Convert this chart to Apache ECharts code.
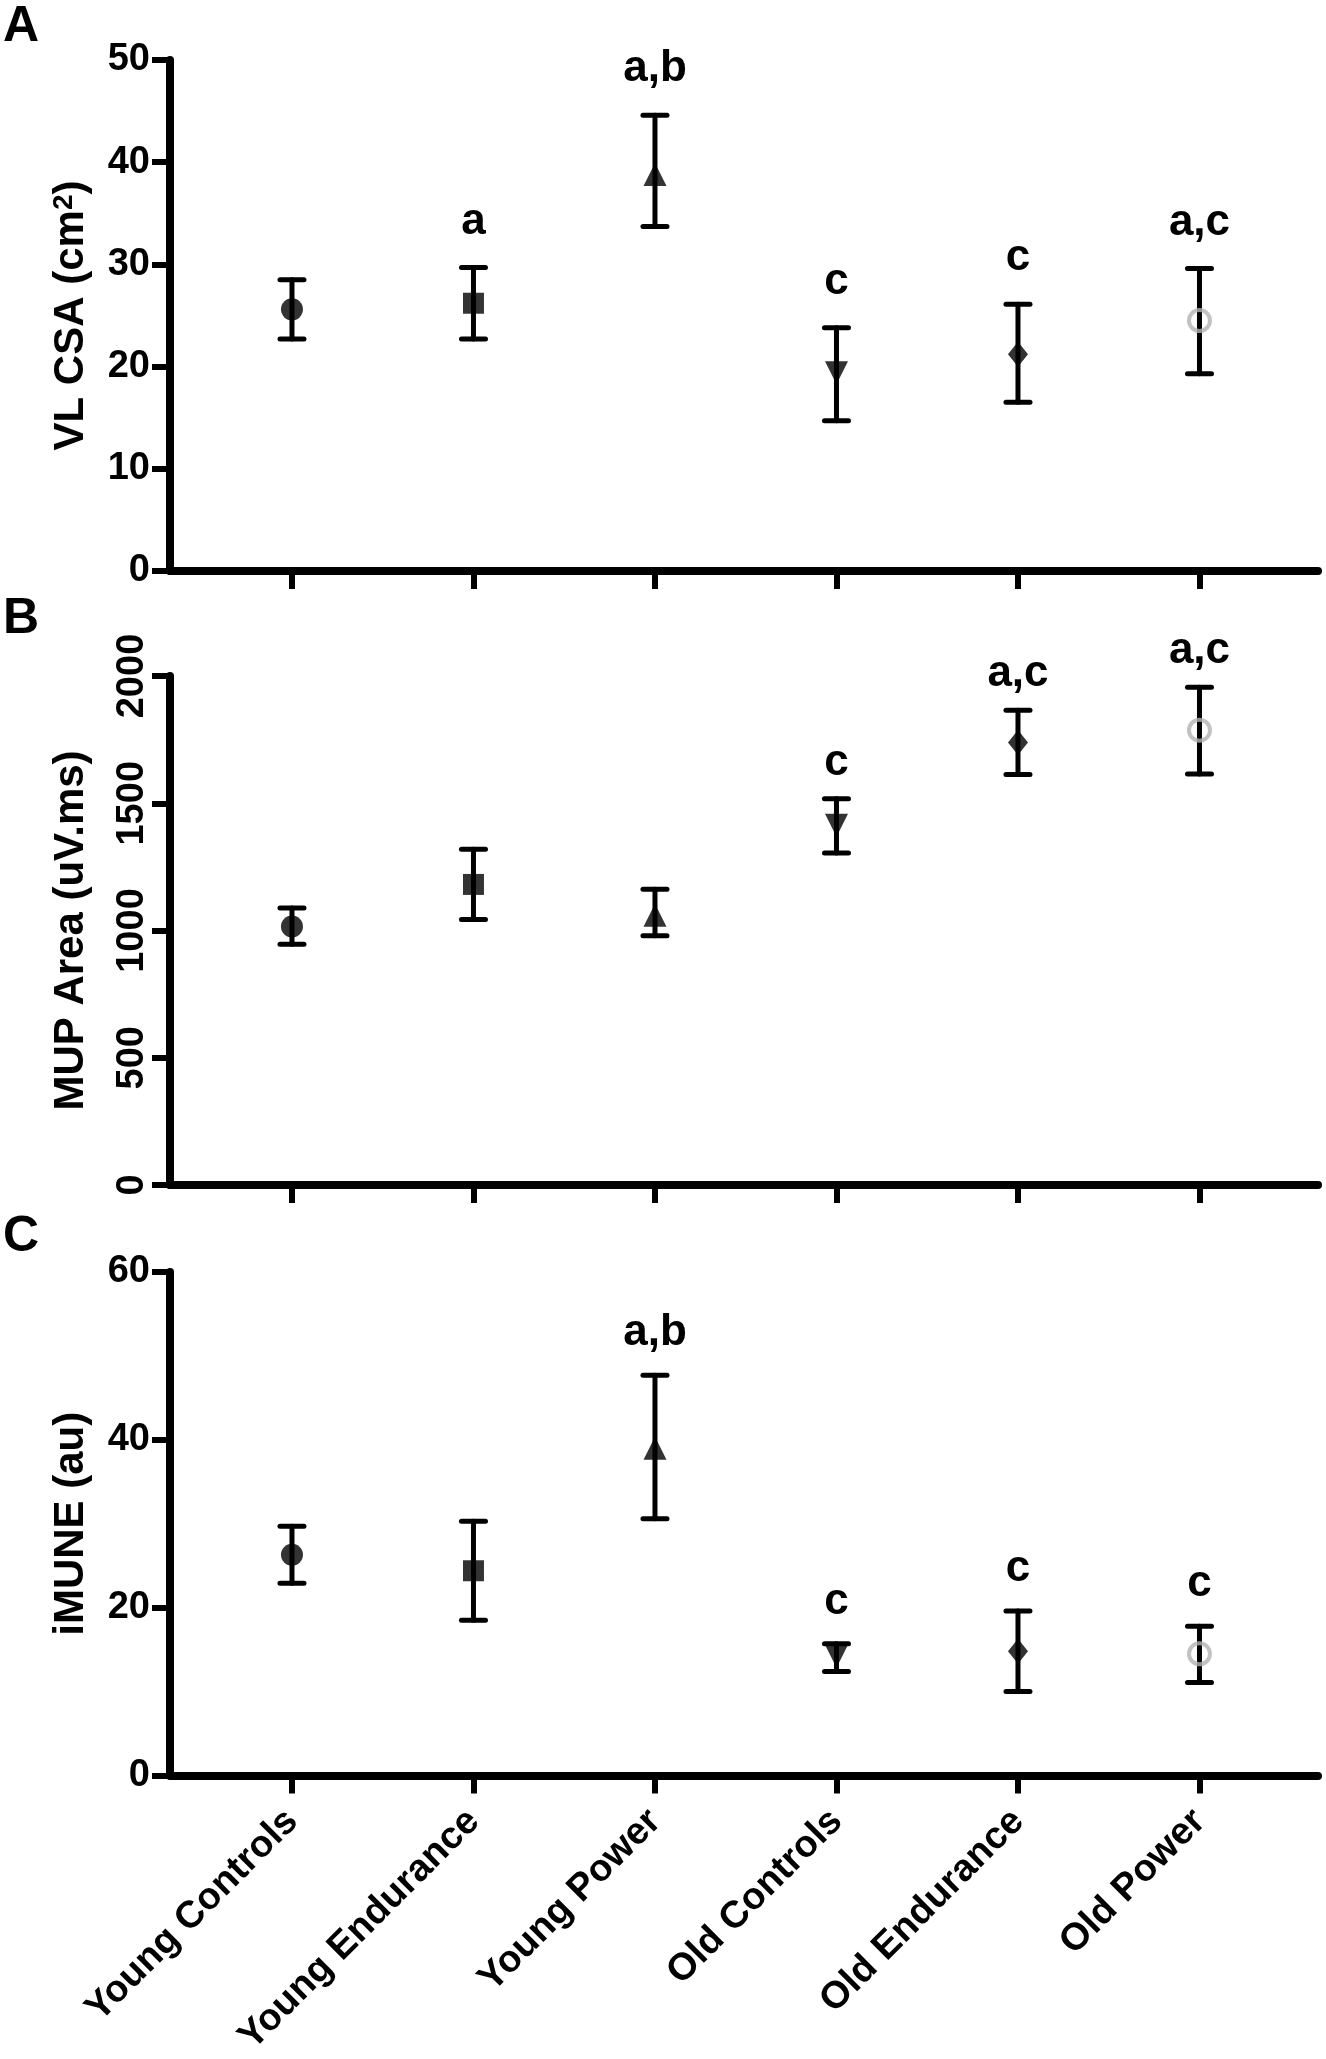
<!DOCTYPE html>
<html>
<head>
<meta charset="utf-8">
<script src="https://cdn.jsdelivr.net/npm/echarts@6/dist/echarts.min.js"></script>
<style>
html,body{margin:0;padding:0;background:#fff;}
#chart{width:1326px;height:2059px;}
</style>
</head>
<body>
<div id="chart"></div>
<script>
// ---------- data ----------
const groups = ['Young Controls', 'Young Endurance', 'Young Power', 'Old Controls', 'Old Endurance', 'Old Power'];

const csaMean  = [25.6, 26.2, 38.8, 19.4, 21.2, 24.5];
const csaUpper = [28.5, 29.7, 44.6, 23.8, 26.1, 29.6];
const csaLower = [22.7, 22.7, 33.7, 14.7, 16.5, 19.3];
const csaSig   = ['', 'a', 'a,b', 'c', 'c', 'a,c'];

const mupMean  = [1016, 1181, 1060, 1414, 1739, 1787];
const mupUpper = [1088, 1319, 1162, 1518, 1865, 1956];
const mupLower = [946, 1043, 979, 1305, 1613, 1615];
const mupSig   = ['', '', '', 'c', 'a,c', 'a,c'];

const muneMean  = [26.3, 24.4, 39.0, 14.2, 14.8, 14.5];
const muneUpper = [29.7, 30.3, 47.7, 15.7, 19.6, 17.8];
const muneLower = [22.9, 18.5, 30.6, 12.4, 10.0, 11.1];
const muneSig   = ['', '', 'a,b', 'c', 'c', 'c'];

const groupIndex = [0, 1, 2, 3, 4, 5];

// ---------- styles ----------
const FONT = '"Liberation Sans", Arial, Helvetica, sans-serif';
const symbols = ['circle', 'rect', 'triangle', 'triangle', 'diamond', 'circle'];
const symbolRot = [0, 0, 0, 180, 0, 0];
const symbolSizes = [22, 21, 23, 23, [20, 25], 21];

function markerData(means) {
  return means.map((v, i) => {
    const d = {
      value: [groupIndex[i], v],
      symbol: symbols[i],
      symbolRotate: symbolRot[i],
      symbolSize: symbolSizes[i],
      itemStyle: { color: '#000' }
    };
    if (i === 5) {
      d.itemStyle = { color: 'rgba(0,0,0,0)', borderColor: '#b3b3b3', borderWidth: 4 };
    }
    return d;
  });
}

function errData(lower, upper) {
  return lower.map((l, i) => [groupIndex[i], l, upper[i]]);
}

function makeErrRender(sig, gap) {
  return function (params, api) {
    const x = api.value(0);
    const lo = api.coord([x, api.value(1)]);
    const hi = api.coord([x, api.value(2)]);
    const half = 12;
    const st = { stroke: '#000', lineWidth: 5, lineCap: 'round' };
    const children = [
      { type: 'line', shape: { x1: lo[0], y1: lo[1], x2: hi[0], y2: hi[1] }, style: st },
      { type: 'line', shape: { x1: hi[0] - half, y1: hi[1], x2: hi[0] + half, y2: hi[1] }, style: st },
      { type: 'line', shape: { x1: lo[0] - half, y1: lo[1], x2: lo[0] + half, y2: lo[1] }, style: st }
    ];
    const t = sig[params.dataIndex];
    if (t) {
      children.push({
        type: 'text',
        style: {
          text: t, x: hi[0], y: hi[1] - gap,
          align: 'center', verticalAlign: 'bottom',
          font: 'bold 44px ' + FONT, fill: '#000'
        }
      });
    }
    return { type: 'group', children: children };
  };
}

const xMin = -0.672, xMax = 5.653;
function xAxis(gridIndex, showLabels) {
  return {
    type: 'value', gridIndex: gridIndex, min: xMin, max: xMax,
    splitLine: { show: false },
    axisLine: { show: true, onZero: false, lineStyle: { color: '#000', width: 8 } },
    axisTick: { show: true, length: 18, lineStyle: { color: '#000', width: 6 }, customValues: groupIndex },
    axisLabel: {
      show: showLabels, customValues: groupIndex, rotate: 45, margin: 40,
      formatter: v => groups[Math.round(v)] || '',
      fontFamily: FONT, fontWeight: 'bold', fontSize: 38, color: '#000'
    }
  };
}
function yAxis(gridIndex, max, interval, name, rotateLabels, labelMargin) {
  return {
    type: 'value', gridIndex: gridIndex, min: 0, max: max, interval: interval,
    name: name, nameLocation: 'middle', nameGap: 78, nameRotate: 90,
    nameTextStyle: {
      fontFamily: FONT, fontWeight: 'bold', fontSize: 42, color: '#000',
      rich: { sup: { fontFamily: FONT, fontWeight: 'bold', fontSize: 28, color: '#000', verticalAlign: 'top', lineHeight: 30 } }
    },
    splitLine: { show: false },
    axisLine: { show: true, onZero: false, lineStyle: { color: '#000', width: 8 } },
    axisTick: { show: true, length: 18, lineStyle: { color: '#000', width: 6 } },
    axisLabel: {
      rotate: rotateLabels ? 90 : 0, margin: labelMargin,
      formatter: v => String(v),
      fontFamily: FONT, fontWeight: 'bold', fontSize: 38, color: '#000'
    }
  };
}

const panels = [
  { mean: csaMean, lower: csaLower, upper: csaUpper, sig: csaSig, gap: 24 },
  { mean: mupMean, lower: mupLower, upper: mupUpper, sig: mupSig, gap: 14 },
  { mean: muneMean, lower: muneLower, upper: muneUpper, sig: muneSig, gap: 20 }
];

const series = [];
panels.forEach((p, k) => {
  series.push({
    type: 'custom', xAxisIndex: k, yAxisIndex: k, z: 2,
    renderItem: makeErrRender(p.sig, p.gap),
    data: errData(p.lower, p.upper),
    silent: true, clip: false
  });
  series.push({
    type: 'scatter', xAxisIndex: k, yAxisIndex: k, z: 3,
    data: markerData(p.mean), silent: true
  });
});

const option = {
  backgroundColor: '#fff',
  animation: false,
  grid: [
    { left: 170, top: 60, width: 1148, height: 511 },
    { left: 170, top: 676, width: 1148, height: 509 },
    { left: 170, top: 1272, width: 1148, height: 510 }
  ],
  xAxis: [xAxis(0, false), xAxis(1, false), xAxis(2, true)],
  yAxis: [
    yAxis(0, 50, 10, 'VL CSA (cm{sup|2})', false, 20),
    yAxis(1, 2000, 500, 'MUP Area (uV.ms)', true, 18),
    yAxis(2, 60, 20, 'iMUNE (au)', false, 20)
  ],
  graphic: [
    { type: 'text', left: 3, top: 2, style: { text: 'A', font: 'bold 50px ' + FONT, fill: '#000' } },
    { type: 'text', left: 3, top: 594, style: { text: 'B', font: 'bold 50px ' + FONT, fill: '#000' } },
    { type: 'text', left: 3, top: 1212, style: { text: 'C', font: 'bold 50px ' + FONT, fill: '#000' } }
  ],
  series: series
};

const chart = echarts.init(document.getElementById('chart'), null, { renderer: 'canvas' });
chart.setOption(option);
</script>
</body>
</html>
